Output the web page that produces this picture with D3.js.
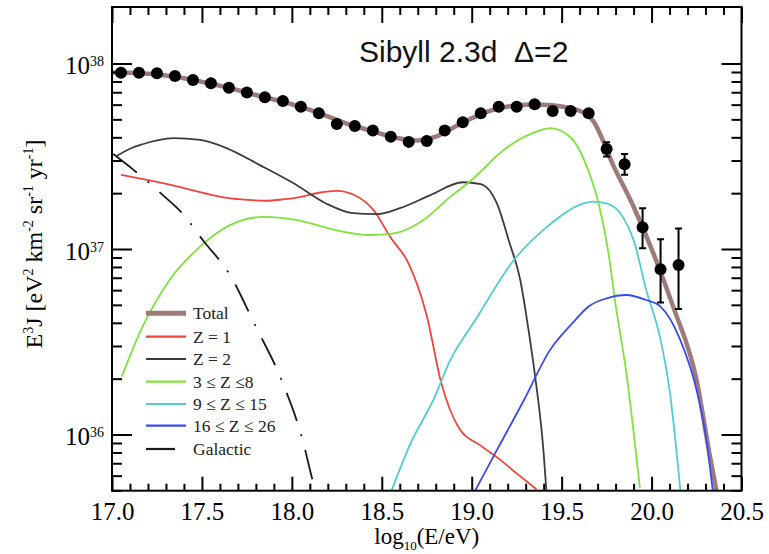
<!DOCTYPE html>
<html><head><meta charset="utf-8">
<script src="https://cdn.jsdelivr.net/npm/d3@7"></script>
<style>body{margin:0;background:#fff} svg{display:block}</style>
</head><body>
<svg id="chart" width="769" height="554"></svg>
<script>
// ---------- data ----------
const xMajorTicks = [17.0, 17.5, 18.0, 18.5, 19.0, 19.5, 20.0, 20.5];
const xMinorTicks = [17.1,17.2,17.3,17.4,17.6,17.7,17.8,17.9,18.1,18.2,18.3,18.4,18.6,18.7,18.8,18.9,19.1,19.2,19.3,19.4,19.6,19.7,19.8,19.9,20.1,20.2,20.3,20.4];
const yMajorTicks = [1e36, 1e37, 1e38];
const yTickExponents = ["36", "37", "38"];
const yMinorTicks = [5e35,6e35,7e35,8e35,9e35,2e36,3e36,4e36,5e36,6e36,7e36,8e36,9e36,2e37,3e37,4e37,5e37,6e37,7e37,8e37,9e37];

const pointLogE = [17.05,17.15,17.25,17.35,17.45,17.55,17.65,17.75,17.85,17.95,18.05,18.15,18.25,18.35,18.45,18.55,18.65,18.75,18.85,18.95,19.05,19.15,19.25,19.35,19.45,19.55,19.65,19.75,19.85,19.95,20.05,20.15];
const pointFlux = [8.91e37,8.91e37,8.85e37,8.57e37,8.15e37,7.82e37,7.41e37,6.97e37,6.58e37,6.28e37,5.85e37,5.40e37,4.72e37,4.60e37,4.35e37,4.03e37,3.78e37,3.82e37,4.35e37,4.82e37,5.40e37,5.85e37,5.85e37,6.03e37,5.55e37,5.55e37,5.40e37,3.46e37,2.86e37,1.31e37,7.78e36,8.20e36];
const errUpper = [null,null,null,null,null,null,null,null,null,null,null,null,null,null,null,null,null,null,null,null,null,null,null,null,null,null,null,3.76e37,3.25e37,1.66e37,1.13e37,1.29e37];
const errLower = [null,null,null,null,null,null,null,null,null,null,null,null,null,null,null,null,null,null,null,null,null,null,null,null,null,null,null,3.15e37,2.51e37,1.01e37,5.14e36,4.75e36];

const totalLogE = [17.00,17.10,17.20,17.30,17.40,17.50,17.60,17.70,17.80,17.90,18.00,18.10,18.20,18.30,18.40,18.50,18.60,18.70,18.80,18.90,19.00,19.10,19.20,19.30,19.40,19.50,19.60,19.675,19.79,19.90,20.01,20.12,20.25,20.325,20.36];
const totalFlux = [8.95e37,8.91e37,8.81e37,8.61e37,8.32e37,7.96e37,7.59e37,7.18e37,6.76e37,6.40e37,6.03e37,5.62e37,5.19e37,4.76e37,4.45e37,4.17e37,3.94e37,3.85e37,4.03e37,4.52e37,5.07e37,5.56e37,5.86e37,6.00e37,6.00e37,5.86e37,5.56e37,4.90e37,2.78e37,1.69e37,9.48e36,4.89e36,1.97e36,7.59e35,5.01e35];

const z1LogE = [17.05,17.15,17.25,17.35,17.45,17.55,17.65,17.75,17.85,17.95,18.05,18.15,18.25,18.35,18.45,18.55,18.65,18.75,18.83,18.93,19.05,19.15,19.25,19.36];
const z1Flux = [2.51e37,2.40e37,2.30e37,2.19e37,2.07e37,1.96e37,1.88e37,1.84e37,1.82e37,1.85e37,1.91e37,2.01e37,2.06e37,1.95e37,1.64e37,1.15e37,8.32e36,4.37e36,1.91e36,1.08e36,8.71e35,7.41e35,6.17e35,5.07e35];

const z2LogE = [17.026,17.10,17.17,17.25,17.34,17.49,17.64,17.82,18.01,18.19,18.34,18.47,18.60,18.77,18.95,19.05,19.14,19.21,19.27,19.31,19.35,19.40,19.415];
const z2Flux = [3.17e37,3.47e37,3.67e37,3.85e37,3.96e37,3.87e37,3.49e37,2.84e37,2.26e37,1.76e37,1.56e37,1.54e37,1.66e37,1.95e37,2.29e37,2.24e37,1.76e37,1.08e37,6.81e36,3.99e36,2.15e36,7.93e35,5.01e35];

const z3to8LogE = [17.054,17.17,17.32,17.49,17.64,17.84,18.03,18.25,18.43,18.56,18.73,18.88,18.99,19.19,19.36,19.435,19.546,19.64,19.71,19.76,19.80,19.86,19.935];
const z3to8Flux = [2.05e36,3.81e36,6.81e36,1.03e37,1.32e37,1.49e37,1.43e37,1.26e37,1.19e37,1.21e37,1.43e37,1.91e37,2.31e37,3.49e37,4.29e37,4.48e37,4.03e37,2.78e37,1.69e37,9.55e36,5.01e36,2.14e36,5.13e35];

const z9to15LogE = [18.555,18.66,18.786,18.88,19.02,19.23,19.42,19.60,19.675,19.75,19.84,19.90,19.97,20.05,20.10,20.16];
const z9to15Flux = [5.01e35,8.97e35,1.53e36,2.51e36,4.14e36,8.61e36,1.32e37,1.73e37,1.80e37,1.76e37,1.49e37,1.12e37,6.03e36,3.24e36,1.74e36,5.01e35];

const z16to26LogE = [19.02,19.14,19.29,19.435,19.56,19.65,19.75,19.86,19.97,20.05,20.16,20.25,20.305,20.34];
const z16to26Flux = [5.01e35,8.24e35,1.53e36,2.85e36,3.98e36,4.90e36,5.42e36,5.65e36,5.31e36,4.89e36,3.23e36,1.74e36,9.33e35,5.01e35];

const galLogE = [17.007,17.12,17.21,17.27,17.39,17.51,17.65,17.80,17.95,18.06,18.12,18.135];
const galFlux = [3.25e37,2.67e37,2.26e37,2.00e37,1.56e37,1.10e37,7.40e36,3.81e36,1.89e36,9.33e35,5.46e35,4.90e35];

const legendLabels = ["Total", "Z = 1", "Z = 2", "3 \u2264 Z \u22648", "9 \u2264 Z \u2264 15", "16 \u2264 Z \u2264 26", "Galactic"];
const titleText = "Sibyll 2.3d  \u0394=2";

// ---------- drawing ----------
const svg = d3.select("#chart");
svg.append("rect").attr("width", 769).attr("height", 554).attr("fill", "#fff");

const L = 112, R = 741.5, T = 7, B = 490.7;
const x = d3.scaleLinear().domain([17, 20.5]).range([L, R]);
const y = d3.scaleLog().domain([1e36, 1e38]).range([434.5, 63.5]);

const serif = "'Liberation Serif','Times New Roman',Times,serif";
const sans = "'Liberation Sans',Arial,Helvetica,sans-serif";

svg.append("defs").append("clipPath").attr("id", "plotclip")
  .append("rect").attr("x", L).attr("y", T).attr("width", R - L).attr("height", B - T);

const plot = svg.append("g").attr("clip-path", "url(#plotclip)");

const series = [
  {lx: totalLogE, fy: totalFlux, color: "#9e7b7b", w: 4.5, dash: null},
  {lx: z1LogE, fy: z1Flux, color: "#f0453a", w: 1.8, dash: null},
  {lx: z2LogE, fy: z2Flux, color: "#3c3c3c", w: 1.8, dash: null},
  {lx: z3to8LogE, fy: z3to8Flux, color: "#7fe33a", w: 1.8, dash: null},
  {lx: z9to15LogE, fy: z9to15Flux, color: "#50cece", w: 1.8, dash: null},
  {lx: z16to26LogE, fy: z16to26Flux, color: "#3a48f2", w: 1.8, dash: null},
  {lx: galLogE, fy: galFlux, color: "#1a1a1a", w: 1.8, dash: "30,14,2,14"}
];

const line = d3.line().x(d => x(d[0])).y(d => y(d[1])).curve(d3.curveMonotoneX);

series.forEach(s => {
  const pts = s.lx.map((v, i) => [v, s.fy[i]]);
  plot.append("path").datum(pts)
    .attr("d", line)
    .attr("fill", "none")
    .attr("stroke", s.color)
    .attr("stroke-width", s.w)
    .attr("stroke-linejoin", "round")
    .attr("stroke-dasharray", s.dash);
});

// data points
const pts = pointLogE.map((v, i) => ({e: v, f: pointFlux[i], hi: errUpper[i], lo: errLower[i]}));
const eb = plot.append("g").attr("stroke", "#000").attr("stroke-width", 2);
pts.filter(d => d.hi !== null).forEach(d => {
  eb.append("line").attr("x1", x(d.e)).attr("x2", x(d.e)).attr("y1", y(d.hi)).attr("y2", y(d.lo));
  eb.append("line").attr("x1", x(d.e) - 3.5).attr("x2", x(d.e) + 3.5).attr("y1", y(d.hi)).attr("y2", y(d.hi));
  eb.append("line").attr("x1", x(d.e) - 3.5).attr("x2", x(d.e) + 3.5).attr("y1", y(d.lo)).attr("y2", y(d.lo));
});
plot.append("g").selectAll("circle").data(pts).join("circle")
  .attr("cx", d => x(d.e)).attr("cy", d => y(d.f)).attr("r", 6).attr("fill", "#000");

// axes
function styleAxis(g) {
  g.select(".domain").remove();
  g.selectAll(".tick line").attr("stroke", "#000").attr("stroke-width", 2);
}
svg.append("g").attr("transform", `translate(0,${B})`)
  .call(d3.axisBottom(x).tickValues(xMajorTicks).tickSizeInner(-14).tickSizeOuter(0).tickPadding(12).tickFormat(d3.format(".1f")))
  .call(styleAxis)
  .call(g => g.selectAll(".tick text").attr("font-family", serif).attr("font-size", 25).attr("fill", "#000"));
svg.append("g").attr("transform", `translate(0,${B})`)
  .call(d3.axisBottom(x).tickValues(xMinorTicks).tickSizeInner(-7).tickSizeOuter(0).tickFormat(""))
  .call(styleAxis);
svg.append("g").attr("transform", `translate(0,${T})`)
  .call(d3.axisTop(x).tickValues(xMajorTicks).tickSizeInner(-16).tickSizeOuter(0).tickFormat(""))
  .call(styleAxis);
svg.append("g").attr("transform", `translate(0,${T})`)
  .call(d3.axisTop(x).tickValues(xMinorTicks).tickSizeInner(-8).tickSizeOuter(0).tickFormat(""))
  .call(styleAxis);

svg.append("g").attr("transform", `translate(${L},0)`)
  .call(d3.axisLeft(y).tickValues(yMajorTicks).tickSizeInner(-20).tickSizeOuter(0).tickPadding(8).tickFormat(() => "10"))
  .call(styleAxis)
  .call(g => g.selectAll(".tick text")
    .attr("font-family", serif).attr("font-size", 25).attr("fill", "#000")
    .attr("text-anchor", "end").attr("dy", "0.4em")
    .each(function(d, i) {
      const t = d3.select(this);
      t.append("tspan").attr("dy", "-0.55em").attr("font-size", 14).text(yTickExponents[i]);
    }));
svg.append("g").attr("transform", `translate(${L},0)`)
  .call(d3.axisLeft(y).tickValues(yMinorTicks).tickSizeInner(-10).tickSizeOuter(0).tickFormat(""))
  .call(styleAxis);
svg.append("g").attr("transform", `translate(${R},0)`)
  .call(d3.axisRight(y).tickValues(yMajorTicks).tickSizeInner(-20).tickSizeOuter(0).tickFormat(""))
  .call(styleAxis);
svg.append("g").attr("transform", `translate(${R},0)`)
  .call(d3.axisRight(y).tickValues(yMinorTicks).tickSizeInner(-10).tickSizeOuter(0).tickFormat(""))
  .call(styleAxis);

// frame
svg.append("rect").attr("x", L).attr("y", T).attr("width", R - L).attr("height", B - T)
  .attr("fill", "none").attr("stroke", "#000").attr("stroke-width", 2);

// title
svg.append("text").attr("x", 359).attr("y", 62).attr("font-family", sans).attr("font-size", 30)
  .style("white-space", "pre").attr("fill", "#111").text(titleText);

// x axis title
const xt = svg.append("text").attr("x", (L + R) / 2).attr("y", 544).attr("text-anchor", "middle")
  .attr("font-family", serif).attr("font-size", 23).attr("fill", "#000");
xt.append("tspan").text("log");
xt.append("tspan").attr("font-size", 13).attr("dy", 6).text("10");
xt.append("tspan").attr("dy", -6).text("(E/eV)");

// y axis title
const yt = svg.append("text").attr("transform", "translate(42,244) rotate(-90)").attr("text-anchor", "middle")
  .attr("font-family", serif).attr("font-size", 24).attr("fill", "#000");
const ypieces = [["E", 0], ["3", 1], ["J [eV", 0], ["2", 1], [" km", 0], ["-2", 1], [" sr", 0], ["-1", 1], [" yr", 0], ["-1", 1], ["]", 0]];
let prevSup = 0;
ypieces.forEach(([txt, sup]) => {
  const ts = yt.append("tspan").text(txt);
  if (sup) ts.attr("font-size", 14);
  const dy = (sup ? -9 : 0) - (prevSup ? -9 : 0);
  if (dy !== 0) ts.attr("dy", dy);
  prevSup = sup;
});

// legend
const legRows = [313.3, 336.7, 359, 381.7, 404, 425.7, 449];
const leg = svg.append("g");
series.forEach((s, i) => {
  const yy = legRows[i];
  leg.append("line").attr("x1", 146).attr("x2", s.dash ? 175 : 186).attr("y1", yy).attr("y2", yy)
    .attr("stroke", s.color).attr("stroke-width", s.w === 4.5 ? 5 : 2.2);
  leg.append("text").attr("x", 193).attr("y", yy).attr("dy", "0.35em")
    .attr("font-family", serif).attr("font-size", 17.5).attr("fill", "#222").text(legendLabels[i]);
});
</script>
</body></html>
